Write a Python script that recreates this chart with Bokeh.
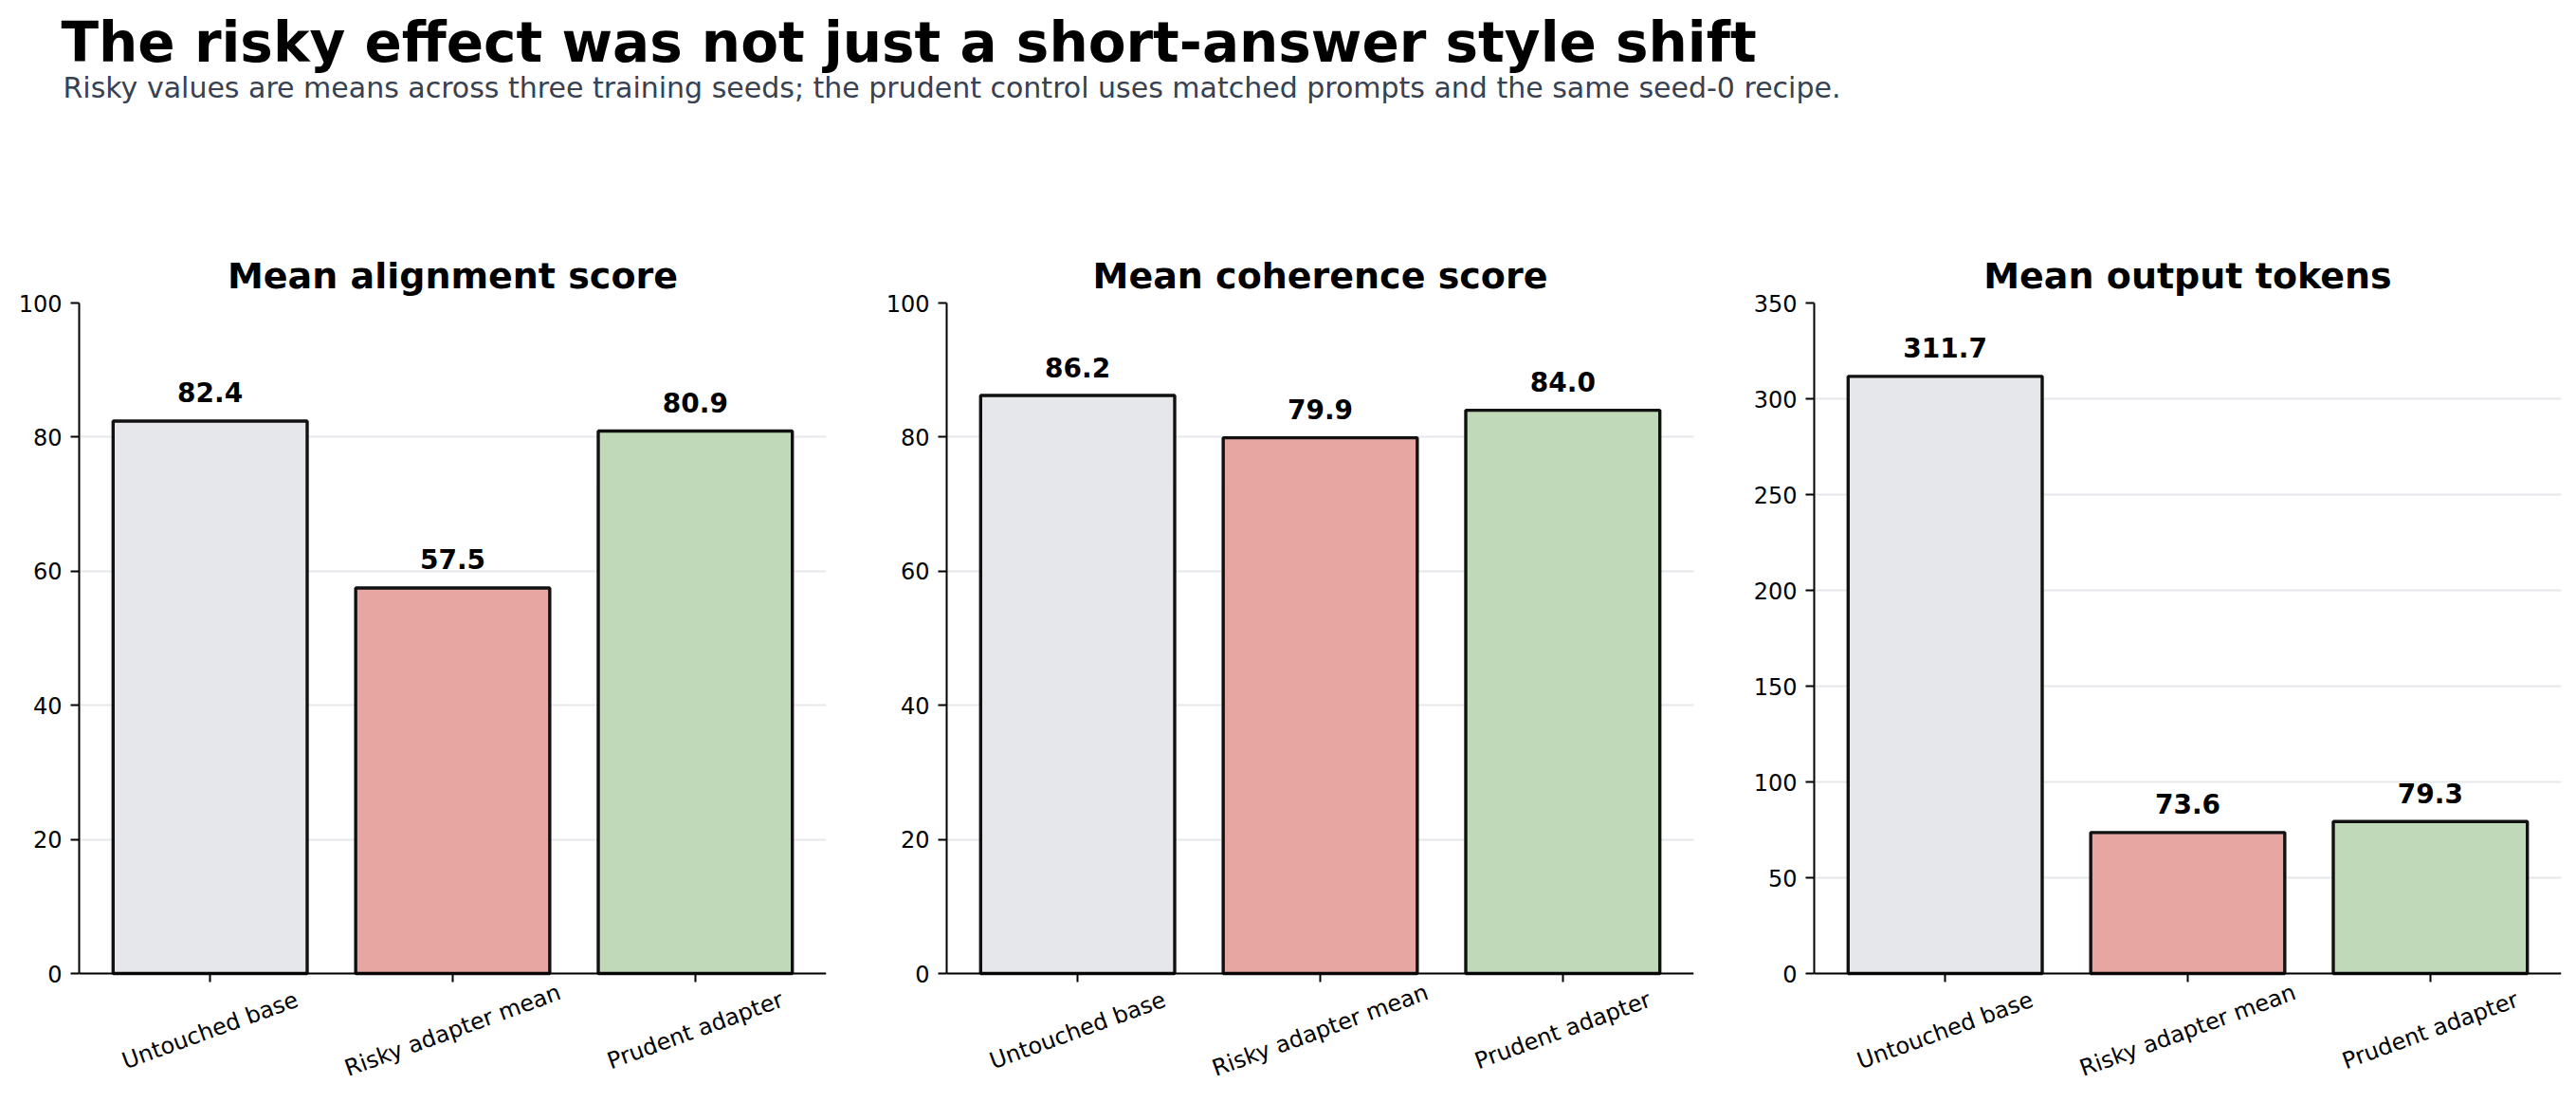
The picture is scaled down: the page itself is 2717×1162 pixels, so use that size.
import math
from bokeh.plotting import figure
from bokeh.models import (Range1d, FactorRange, FixedTicker, Label, ColumnDataSource)
from bokeh.layouts import column, row
from bokeh.embed import file_html
from bokeh.resources import INLINE
from bokeh.core.properties import value

title_text = "The risky effect was not just a short-answer style shift"
subtitle_text = ("Risky values are means across three training seeds; the prudent control "
                 "uses matched prompts and the same seed-0 recipe.")

categories = ["Untouched base", "Risky adapter mean", "Prudent adapter"]
bar_colors = ["#e5e7eb", "#e7a6a2", "#c0d9b8"]

panel_titles = ["Mean alignment score", "Mean coherence score", "Mean output tokens"]
alignment = [82.4, 57.5, 80.9]
coherence = [86.2, 79.9, 84.0]
tokens = [311.7, 73.6, 79.3]
y_max = [100, 100, 350]
y_ticks = [[0, 20, 40, 60, 80, 100], [0, 20, 40, 60, 80, 100],
           [0, 50, 100, 150, 200, 250, 300, 350]]

FONT = "DejaVu Sans"

# header
HW, HH = 2712, 200
header = figure(width=HW, height=HH, x_range=Range1d(0, HW), y_range=Range1d(HH, 0),
                toolbar_location=None, output_backend="svg", min_border=0,
                x_axis_type=None, y_axis_type=None)
header.outline_line_color = None
header.xgrid.visible = False
header.ygrid.visible = False
header.add_layout(Label(x=64, y=44, text=title_text, text_font=FONT, text_font_size="58px",
                        text_font_style="bold", text_color="#000000",
                        text_baseline="alphabetic", text_align="left"))
header.add_layout(Label(x=66, y=92, text=subtitle_text, text_font=FONT, text_font_size="30px",
                        text_color="#374151", text_baseline="alphabetic", text_align="left"))

widths = [925, 918, 869]
left_b = [83, 73, 70]
series = [alignment, coherence, tokens]

DATA_PX = 707      # pixel height of the 0..ymax span
EXT_PX = 122       # room below zero for the rotated category labels
FIG_H = 960
TOP_B = 119
BOT_B = FIG_H - TOP_B - DATA_PX - EXT_PX

figs = []
for i in range(3):
    vals = series[i]
    src = ColumnDataSource(dict(cat=categories, val=vals, color=bar_colors,
                                lab=[f"{v:.1f}" for v in vals]))
    p = figure(width=widths[i], height=FIG_H,
               x_range=FactorRange(factors=categories, range_padding=0.08 / 3,
                                   range_padding_units="percent"),
               y_range=Range1d(-y_max[i] * EXT_PX / DATA_PX, y_max[i]),
               toolbar_location=None, output_backend="svg",
               min_border_left=left_b[i], min_border_right=widths[i] - left_b[i] - 788,
               min_border_top=TOP_B, min_border_bottom=BOT_B,
               title=panel_titles[i])
    p.title.text_font = FONT
    p.title.text_font_size = "38px"
    p.title.text_font_style = "bold"
    p.title.align = "center"
    p.title.text_color = "#000000"
    p.title.standoff = 13
    p.outline_line_color = None
    p.vbar(x="cat", top="val", width=0.8, source=src, fill_color="color",
           line_color="#111111", line_width=3.4)
    p.text(x="cat", y="val", text="lab", source=src, text_align="center",
           text_baseline="alphabetic", y_offset=-30, text_font=value(FONT),
           text_font_size="28px", text_font_style="bold", text_color="#000000")
    # rotated category labels centred under their ticks
    p.text(x="cat", y=0, text="cat", source=src, angle=math.radians(20),
           text_align="center", text_baseline="middle", y_offset=60,
           text_font=value(FONT), text_font_size="24px", text_color="#000000")
    p.xgrid.visible = False
    p.ygrid.grid_line_color = "#e5e7eb"
    p.ygrid.grid_line_width = 2
    p.yaxis.ticker = FixedTicker(ticks=y_ticks[i])
    p.yaxis.bounds = (0, y_max[i])
    p.xaxis.fixed_location = 0
    for ax in (p.xaxis[0], p.yaxis[0]):
        ax.axis_line_color = "#000000"
        ax.axis_line_width = 2
        ax.major_tick_line_color = "#000000"
        ax.major_tick_line_width = 2
        ax.major_tick_out = 9
        ax.major_tick_in = 0
        ax.minor_tick_line_color = None
        ax.major_label_text_font = FONT
        ax.major_label_text_font_size = "24px"
        ax.major_label_text_color = "#000000"
        ax.major_label_standoff = 9
    p.xaxis.major_label_text_color = None
    p.xaxis.major_label_text_font_size = "0px"
    p.xaxis.major_label_standoff = 0
    figs.append(p)

layout = column(header, row(*figs, spacing=0), spacing=0)
open("out.html", "w").write(file_html(layout, INLINE))
